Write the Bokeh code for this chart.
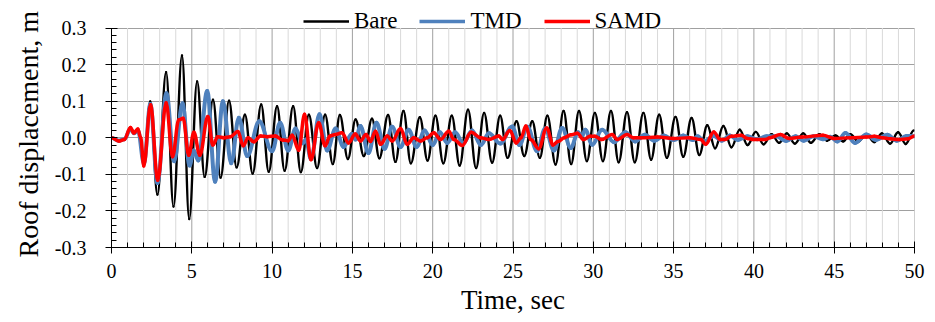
import numpy as np
from bokeh.plotting import figure
from bokeh.models import (ColumnDataSource, FixedTicker, NumeralTickFormatter,
                          Legend, LegendItem, Range1d, Title)
from bokeh.embed import file_html
from bokeh.resources import INLINE

# ---- data: extrema / turning points (time s, displacement m)
bare_t = [0.0, 0.45, 0.8, 1.18, 1.4, 1.65, 2.02, 2.41, 2.86, 3.40, 3.86, 4.39, 4.84, 5.33, 5.80,
          6.32, 6.79, 7.32, 7.79, 8.31, 8.79, 9.32, 9.79, 10.31, 10.78, 11.31, 11.79, 12.29, 12.80,
          13.30, 13.78, 14.22, 14.72, 15.20, 15.71, 16.22, 16.68, 17.22, 17.68, 18.18, 18.64, 19.20,
          19.68, 20.17, 20.66, 21.19, 21.68, 22.2, 22.7, 23.2, 23.7, 24.2, 24.66, 25.22, 25.7, 26.2,
          26.67, 27.14, 27.65, 28.15, 28.62, 29.11, 29.6, 30.1, 30.6, 31.1, 31.58, 32.1, 32.58, 33.12,
          33.6, 34.1, 34.58, 35.12, 35.6, 36.12, 36.6, 37.1, 37.58, 38.1, 38.6, 39.12, 39.6, 40.12,
          40.6, 41.1, 41.57, 42.05, 42.55, 43.07, 43.55, 44.08, 44.55, 45.08, 45.55, 46.0, 46.5, 47.0,
          47.5, 47.97, 48.48, 48.98, 49.45, 49.95]
bare_v = [0.0, -0.008, -0.004, 0.026, 0.012, 0.022, -0.072, 0.099, -0.155, 0.179, -0.188, 0.225, -0.222,
          0.154, -0.107, 0.104, -0.109, 0.101, -0.081, 0.063, -0.098, 0.091, -0.093, 0.086, -0.090, 0.086,
          -0.094, 0.063, -0.083, 0.063, -0.072, 0.062, -0.058, 0.050, -0.050, 0.052, -0.056, 0.062, -0.066,
          0.073, -0.070, 0.056, -0.062, 0.060, -0.070, 0.060, -0.076, 0.077, -0.083, 0.068, -0.068, 0.060,
          -0.055, 0.045, -0.050, 0.045, -0.055, 0.060, -0.073, 0.073, -0.072, 0.073, -0.064, 0.068, -0.064,
          0.073, -0.067, 0.070, -0.067, 0.068, -0.060, 0.063, -0.055, 0.057, -0.052, 0.054, -0.047, 0.034,
          -0.029, 0.032, -0.026, 0.022, -0.020, 0.016, -0.018, 0.010, -0.014, 0.012, -0.016, 0.012, -0.014,
          0.010, -0.008, 0.006, -0.010, 0.010, -0.010, 0.010, -0.012, 0.012, -0.016, 0.015, -0.017, 0.020]

tmd_t = [0.0, 0.45, 0.8, 1.18, 1.4, 1.65, 2.02, 2.42, 2.86, 3.42, 3.9, 4.42, 4.86, 5.12, 5.4, 5.96,
         6.45, 6.94, 7.45, 7.93, 8.45, 9.2, 10.0, 10.5, 11.0, 11.46, 11.9, 12.1, 12.42, 12.95, 13.43,
         13.95, 14.45, 14.95, 15.2, 15.5, 16.0, 16.5, 17.0, 17.47, 18.0, 18.5, 19.0, 19.5, 20.0, 20.45,
         20.9, 21.4, 21.9, 22.45, 23.0, 23.5, 24.2, 24.95, 25.4, 25.9, 26.5, 27.0, 27.55, 28.06, 28.6,
         29.05, 29.3, 29.5, 29.93, 30.55, 31.3, 32.0, 32.6, 33.2, 33.8, 34.4, 35.0, 35.6, 36.2, 36.5,
         36.9, 37.5, 38.0, 38.5, 39.0, 39.6, 40.2, 40.8, 41.4, 42.0, 42.6, 43.1, 43.7, 44.3, 44.75,
         45.2, 45.7, 46.3, 47.0, 47.6, 48.3, 48.9, 49.5, 50.0]
tmd_v = [0.0, -0.008, -0.004, 0.024, 0.012, 0.020, -0.070, 0.092, -0.124, 0.122, -0.064, 0.094, -0.076,
         -0.035, -0.062, 0.128, -0.120, 0.100, -0.070, 0.055, -0.050, 0.045, -0.037, 0.041, -0.035, 0.025,
         -0.015, -0.005, -0.058, 0.064, -0.035, 0.025, -0.025, 0.010, -0.005, 0.032, -0.042, 0.041, -0.030,
         0.030, -0.025, 0.022, -0.025, 0.020, -0.020, 0.015, -0.014, 0.015, -0.015, 0.020, -0.020, 0.012,
         -0.016, 0.031, -0.020, 0.030, -0.037, 0.025, -0.035, 0.027, -0.028, 0.015, 0.005, 0.022, -0.019,
         0.022, -0.012, 0.015, -0.010, 0.008, -0.008, 0.006, -0.006, 0.006, -0.006, 0.004, -0.010, 0.005,
         -0.008, 0.006, -0.006, 0.004, -0.004, 0.004, 0.004, -0.009, 0.004, -0.008, 0.004, -0.004, 0.003,
         -0.010, 0.013, -0.014, 0.009, -0.006, 0.008, -0.008, 0.005, 0.004]

samd_t = [0.0, 0.46, 0.8, 1.18, 1.39, 1.64, 1.82, 2.01, 2.43, 2.88, 3.40, 3.8, 4.19, 4.46, 4.81, 5.13,
          5.5, 6.0, 6.31, 6.62, 7.0, 7.4, 7.87, 8.2, 8.5, 8.86, 9.28, 9.7, 10.2, 10.65, 11.0, 11.25,
          11.66, 12.02, 12.42, 12.9, 13.3, 13.6, 13.95, 14.35, 14.76, 15.18, 15.5, 15.85, 16.13, 16.44,
          16.75, 17.17, 17.48, 18.0, 18.41, 18.82, 19.24, 19.66, 20.07, 20.49, 21.0, 21.32, 21.84, 22.4,
          22.98, 23.5, 24.12, 24.35, 24.8, 25.2, 25.5, 25.8, 26.1, 26.6, 27.1, 27.5, 27.8, 28.2, 28.6,
          29.0, 29.4, 29.8, 30.1, 30.5, 31.17, 31.5, 32.1, 32.5, 33.0, 34.0, 35.0, 36.0, 36.7, 37.0,
          37.5, 37.9, 38.2, 38.6, 39.2, 39.6, 40.0, 40.7, 41.0, 41.65, 42.2, 43.0, 44.3, 45.0, 46.0,
          47.0, 47.5, 48.0, 48.5, 49.0, 49.6, 50.0]
samd_v = [0.0, -0.009, -0.005, 0.028, 0.013, 0.024, 0.0, -0.077, 0.090, -0.116, 0.096, -0.052, 0.049,
          0.053, -0.048, 0.015, -0.048, 0.058, -0.020, 0.003, 0.0, 0.003, 0.017, -0.022, 0.0, -0.011,
          0.005, 0.003, 0.005, -0.006, -0.008, 0.007, -0.034, 0.064, -0.060, 0.041, -0.022, 0.005, 0.009,
          0.014, -0.014, 0.010, -0.009, 0.009, -0.010, 0.018, -0.018, 0.005, -0.009, 0.025, -0.018, 0.0,
          -0.009, 0.0, 0.014, -0.005, 0.018, -0.005, -0.021, 0.015, 0.0, -0.005, 0.005, -0.005, 0.020,
          -0.014, 0.0, 0.032, -0.005, -0.030, 0.027, -0.020, -0.010, 0.0, 0.008, 0.012, -0.005, 0.004,
          0.004, -0.005, 0.009, -0.005, 0.009, 0.0, 0.0, 0.002, -0.002, 0.0, -0.005, -0.018, 0.016,
          -0.005, -0.005, 0.004, 0.007, -0.002, -0.005, -0.005, 0.0, 0.009, -0.002, 0.002, 0.007, -0.002,
          0.0, 0.002, 0.004, 0.0, -0.003, -0.005, -0.003, 0.005]

series_names = ["Bare", "TMD", "SAMD"]
x_ticks = [0, 5, 10, 15, 20, 25, 30, 35, 40, 45, 50]
x_minor = [i for i in range(0, 51) if i % 5 != 0]
y_ticks = [-0.3, -0.2, -0.1, 0.0, 0.1, 0.2, 0.3]
y_minor = [round(-0.3 + 0.02 * i, 2) for i in range(31) if i % 5 != 0]

SERIF = "Liberation Serif"
Y_LO, Y_HI = y_ticks[0], y_ticks[-1]

# frame reaches the top of the figure; the band above 0.3 holds the legend
p = figure(width=935, height=322, output_backend="svg", toolbar_location=None,
           x_range=Range1d(x_ticks[0], x_ticks[-1]), y_range=Range1d(Y_LO, Y_HI + 0.0752),
           min_border_left=111, min_border_right=21, min_border_top=0, min_border_bottom=75)
p.outline_line_color = None
p.background_fill_color = "white"
p.border_fill_color = "white"

p.xaxis.ticker = FixedTicker(ticks=x_ticks, minor_ticks=x_minor)
p.yaxis.ticker = FixedTicker(ticks=y_ticks, minor_ticks=y_minor)
p.yaxis.formatter = NumeralTickFormatter(format="0.0")
p.yaxis.bounds = (Y_LO, Y_HI)

for ax in (p.xaxis[0], p.yaxis[0]):
    ax.axis_line_color = "black"
    ax.axis_line_width = 1
    ax.major_tick_line_color = "black"
    ax.minor_tick_line_color = "black"
    ax.major_tick_in = 6
    ax.major_tick_out = 6
    ax.minor_tick_in = 5
    ax.minor_tick_out = 0
    ax.major_label_text_font = SERIF
    ax.major_label_text_font_size = "20px"
    ax.major_label_text_color = "black"

p.xaxis.axis_label = "Time, sec"
p.xaxis.axis_label_text_font = SERIF
p.xaxis.axis_label_text_font_style = "normal"
p.xaxis.axis_label_text_color = "black"
p.xaxis.axis_label_text_font_size = "27px"
p.xaxis.major_label_standoff = 10
p.xaxis.axis_label_standoff = 4
p.yaxis.major_label_standoff = 19

# y title as a side title, started just below the x axis like the reference
p.add_layout(Title(text="Roof displacement, m", align="left", offset=-10,
                   text_font=SERIF, text_font_size="28px", text_font_style="normal",
                   text_color="black", standoff=16), "left")

# grids: horizontal via built-in grid, vertical drawn only between -0.3 and 0.3
p.xgrid.visible = False
p.ygrid.grid_line_color = "#a0a0a0"
p.ygrid.grid_line_width = 1
p.segment(x0=x_minor, x1=x_minor, y0=[Y_LO] * len(x_minor), y1=[Y_HI] * len(x_minor),
          line_color="#d9d9d9", line_width=1)
p.segment(x0=x_ticks, x1=x_ticks, y0=[Y_LO] * len(x_ticks), y1=[Y_HI] * len(x_ticks),
          line_color="#a0a0a0", line_width=1)

styles = [("black", 2.4), ("#4F81BD", 4.0), ("#FF0000", 3.5)]
datas = [(bare_t, bare_v), (tmd_t, tmd_v), (samd_t, samd_v)]

K = 0.37  # bezier handle length (fraction of segment) -> smooth half-wave between turning points
items = []
for name, (t, v), (col, lw) in zip(series_names, datas, styles):
    t = np.asarray(t, float)
    v = np.asarray(v, float)
    dt = t[1:] - t[:-1]
    src = ColumnDataSource(dict(x0=t[:-1], y0=v[:-1], x1=t[1:], y1=v[1:],
                                cx0=t[:-1] + K * dt, cy0=v[:-1],
                                cx1=t[1:] - K * dt, cy1=v[1:]))
    p.bezier(x0="x0", y0="y0", x1="x1", y1="y1", cx0="cx0", cy0="cy0", cx1="cx1", cy1="cy1",
             source=src, line_color=col, line_width=lw, line_cap="round")
    # one-point line: draws nothing in the plot, only provides the legend swatch
    r = p.line(x=t[:1], y=v[:1], line_color=col, line_width=min(lw, 3.5))
    items.append(LegendItem(label=name, renderers=[r]))

legend = Legend(items=items, orientation="horizontal", location=(192, 213),
                label_text_font=SERIF, label_text_font_size="23px", label_text_color="black",
                glyph_width=46, glyph_height=20, label_height=20, label_standoff=5, spacing=22,
                padding=0, margin=0, border_line_color=None, background_fill_alpha=0)
p.add_layout(legend, "center")

open("out.html", "w").write(file_html(p, INLINE))
